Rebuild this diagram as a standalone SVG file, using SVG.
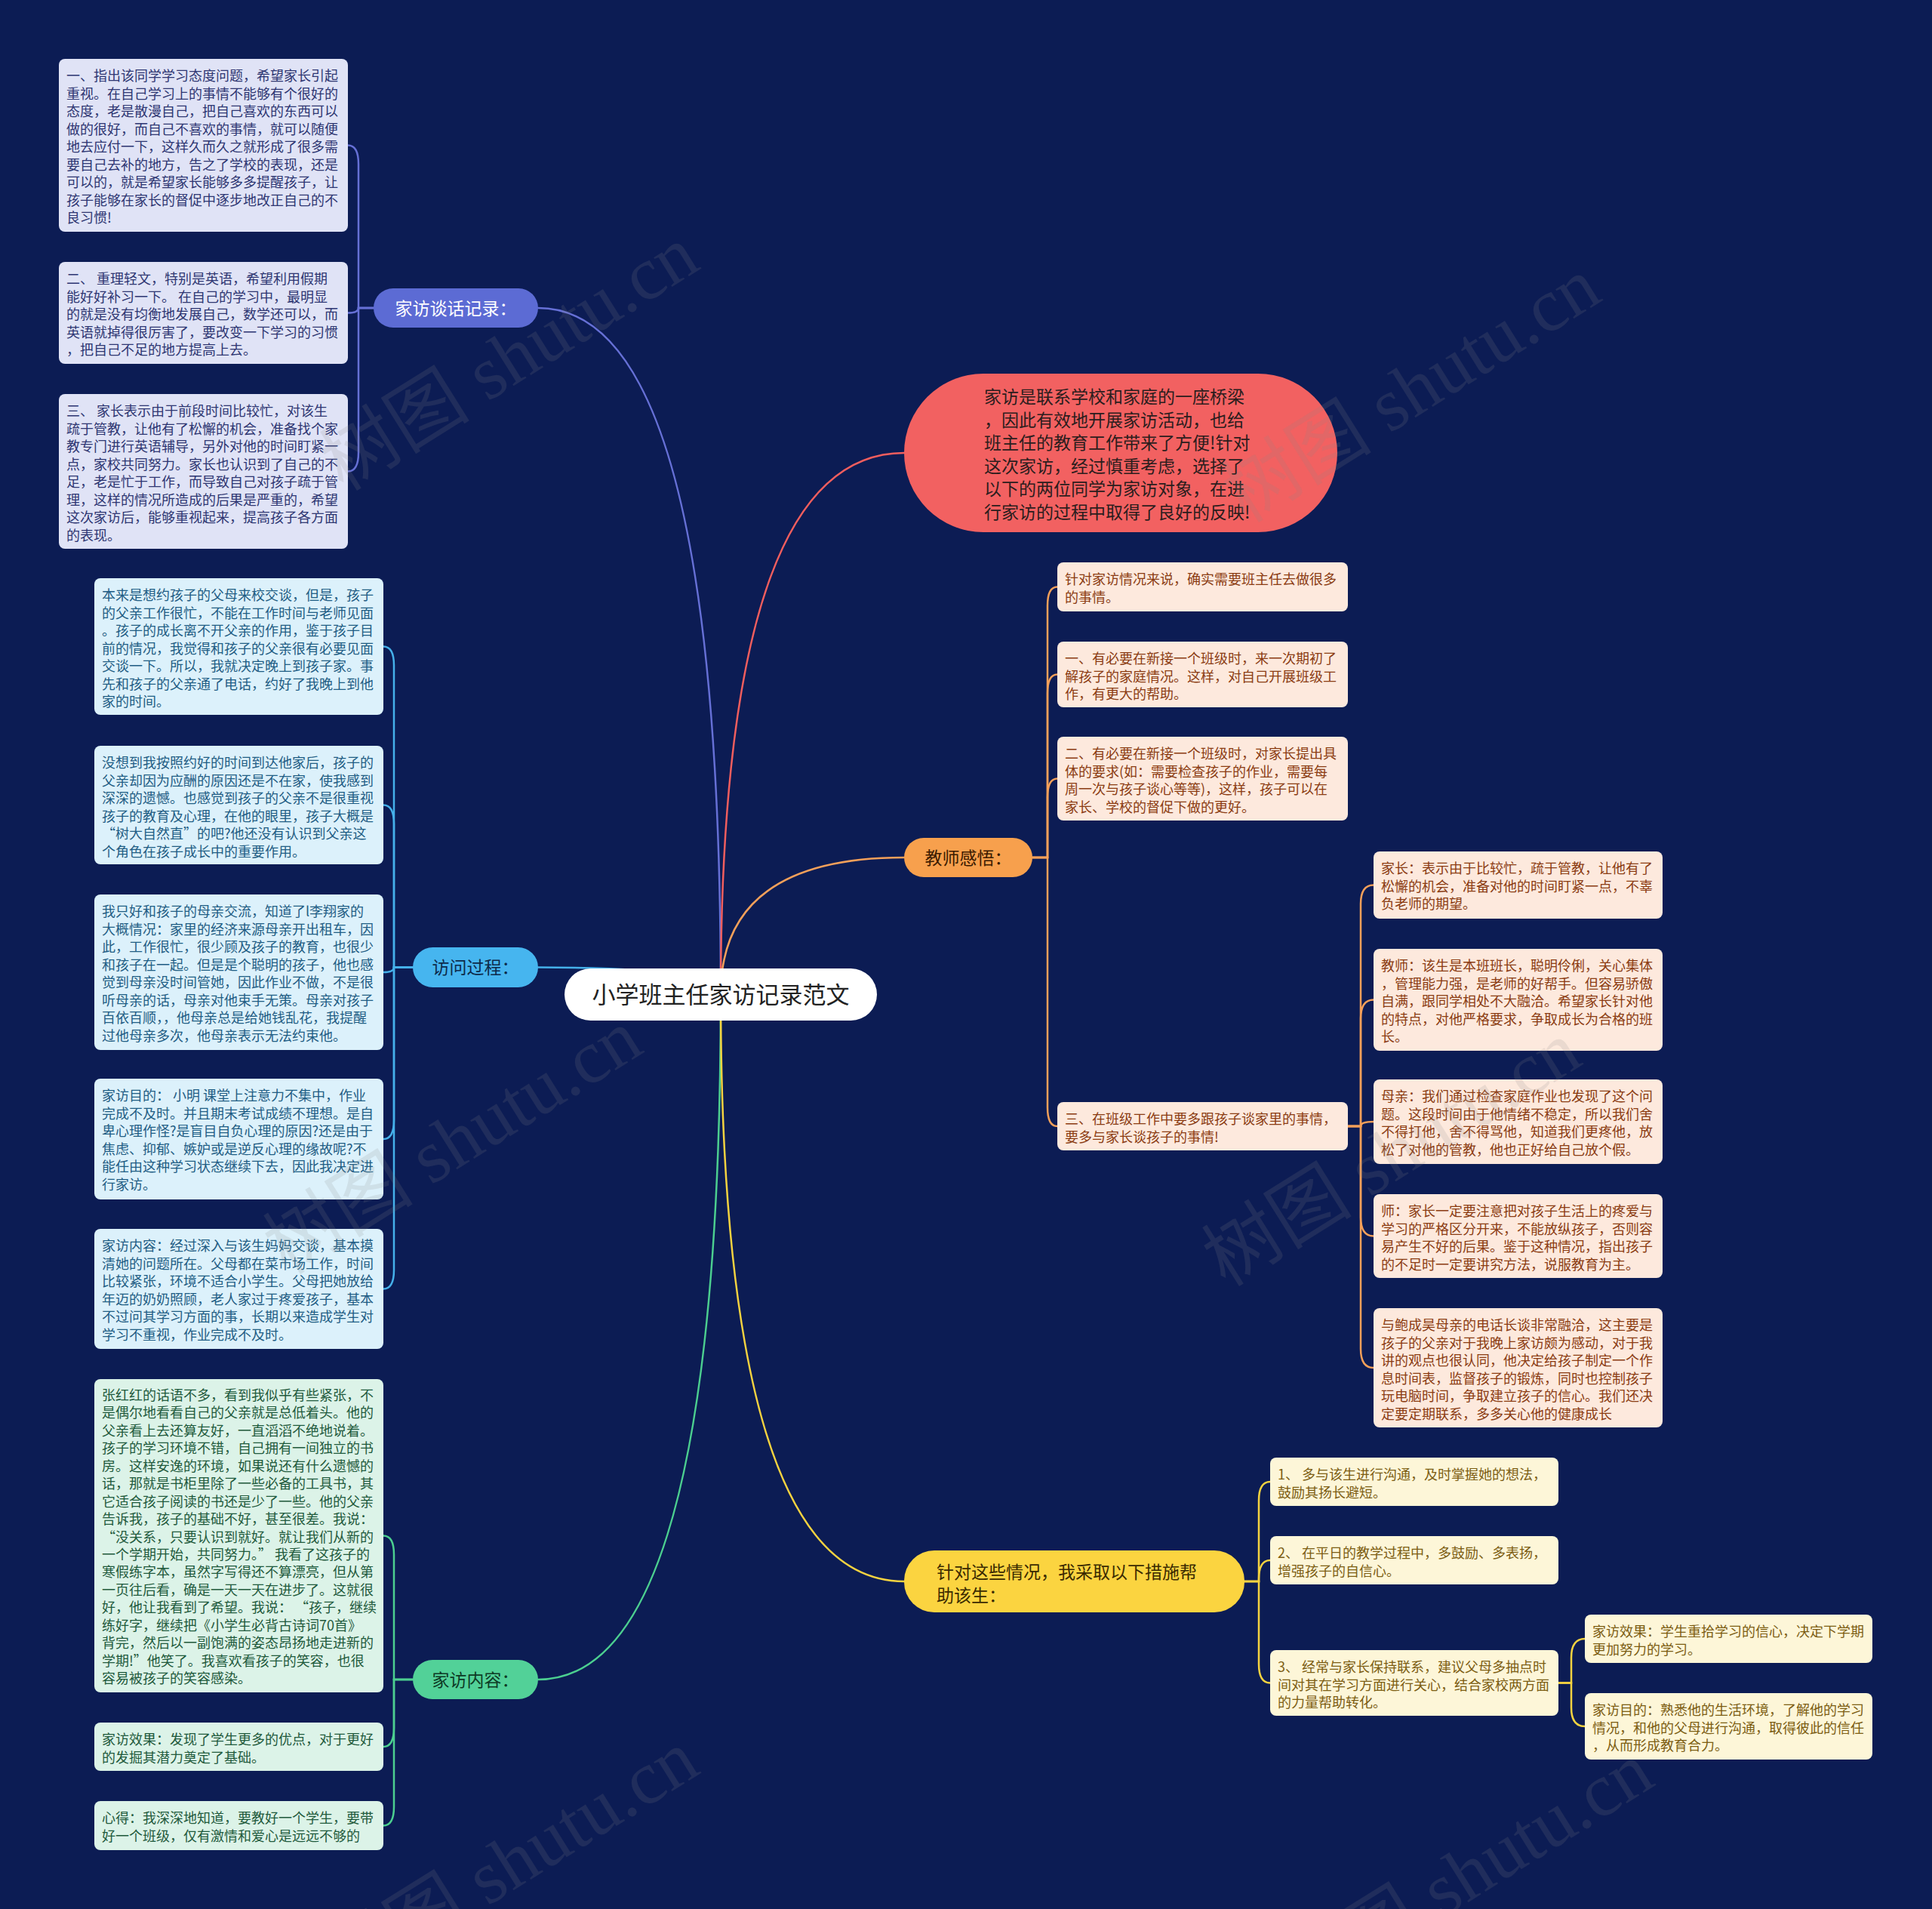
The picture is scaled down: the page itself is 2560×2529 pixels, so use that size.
<svg xmlns="http://www.w3.org/2000/svg" width="2560" height="2529" viewBox="0 0 2560 2529">
<style>
text{font-family:"Noto Sans CJK SC","Noto Sans",sans-serif;}
.leaf{font-size:18px;}
.lav rect{fill:#e0e3f6;} .lav text{fill:#2e3672;}
.sky rect{fill:#dcf1fb;} .sky text{fill:#1f5d84;}
.mint rect{fill:#dcf3e8;} .mint text{fill:#1f5a3c;}
.peach rect{fill:#fde9dd;} .peach text{fill:#8b3c12;}
.cream rect{fill:#fdf6d8;} .cream text{fill:#7c5d12;}
.lbl{font-size:23px;}
.conn path{fill:none;stroke-width:2.5;stroke-linecap:round;}
.c1{stroke:#6670d6;} .c2{stroke:#45b0ea;} .c3{stroke:#4ccf90;} .c4{stroke:#f25e5e;} .c5{stroke:#f4a05a;} .c6{stroke:#f5d340;}
.wm text{font-family:"Liberation Serif","Noto Sans CJK SC",serif;font-size:100px;fill:#8a8a8a;fill-opacity:0.16;}
</style>
<rect width="2560" height="2529" fill="#0c1c54"/>

<g id="connectors" class="conn">
<path class="c1" d="M955 1317 Q955 408 713 408"/>
<path class="c2" d="M955 1317 Q955 1281.5 713 1281.5"/>
<path class="c3" d="M955 1317 Q955 2225 713 2225"/>
<path class="c4" d="M955 1317 Q955 600 1198 600"/>
<path class="c5" d="M955 1317 Q955 1136 1198 1136"/>
<path class="c6" d="M955 1317 Q955 2095 1198 2095"/>
<path class="c1" d="M495 408 H475 V217.5 Q475 192.5 461 192.5"/>
<path class="c1" d="M495 408 H475 Q475 414.5 461 414.5"/>
<path class="c1" d="M495 408 H475 V599.5 Q475 624.5 461 624.5"/>
<path class="c2" d="M547 1281.5 H522 V881.5 Q522 856.5 508 856.5"/>
<path class="c2" d="M547 1281.5 H522 V1091.5 Q522 1066.5 508 1066.5"/>
<path class="c2" d="M547 1281.5 H522 Q522 1288 508 1288"/>
<path class="c2" d="M547 1281.5 H522 V1484 Q522 1509 508 1509"/>
<path class="c2" d="M547 1281.5 H522 V1682.5 Q522 1707.5 508 1707.5"/>
<path class="c3" d="M547 2225 H522 V2059.5 Q522 2034.5 508 2034.5"/>
<path class="c3" d="M547 2225 H522 V2289 Q522 2314 508 2314"/>
<path class="c3" d="M547 2225 H522 V2393.5 Q522 2418.5 508 2418.5"/>
<path class="c5" d="M1368 1136 H1388 V802.5 Q1388 777.5 1401 777.5"/>
<path class="c5" d="M1368 1136 H1388 V918.5 Q1388 893.5 1401 893.5"/>
<path class="c5" d="M1368 1136 H1388 V1056.5 Q1388 1031.5 1401 1031.5"/>
<path class="c5" d="M1368 1136 H1388 V1467 Q1388 1492 1401 1492"/>
<path class="c5" d="M1786 1492 H1803 V1197.5 Q1803 1172.5 1820 1172.5"/>
<path class="c5" d="M1786 1492 H1803 V1349.5 Q1803 1324.5 1820 1324.5"/>
<path class="c5" d="M1786 1492 H1803 Q1803 1486 1820 1486"/>
<path class="c5" d="M1786 1492 H1803 V1612.5 Q1803 1637.5 1820 1637.5"/>
<path class="c5" d="M1786 1492 H1803 V1787 Q1803 1812 1820 1812"/>
<path class="c6" d="M1649 2095 H1668 V1988 Q1668 1963 1683 1963"/>
<path class="c6" d="M1649 2095 H1668 V2092 Q1668 2067 1683 2067"/>
<path class="c6" d="M1649 2095 H1668 V2204.5 Q1668 2229.5 1683 2229.5"/>
<path class="c6" d="M2065 2229.5 H2082 V2196 Q2082 2171 2100 2171"/>
<path class="c6" d="M2065 2229.5 H2082 V2262 Q2082 2287 2100 2287"/>
</g>

<g id="root">
<rect x="748" y="1283" width="414" height="69" rx="34.5" fill="#ffffff"/>
<text x="955" y="1329" font-size="31" text-anchor="middle" fill="#222222">小学班主任家访记录范文</text>
</g>

<g id="branch-tanhua">
<rect x="495" y="382" width="218" height="52" rx="26" fill="#5c6bd4"/>
<text class="lbl" x="604" y="416.5" text-anchor="middle" fill="#ffffff">家访谈话记录：</text>
</g>
<g id="branch-guocheng">
<rect x="547" y="1255" width="166" height="53" rx="26.5" fill="#46b5ef"/>
<text class="lbl" x="630" y="1290" text-anchor="middle" fill="#0d2a4a">访问过程：</text>
</g>
<g id="branch-neirong">
<rect x="547" y="2199" width="166" height="52" rx="26" fill="#52d198"/>
<text class="lbl" x="630" y="2233.5" text-anchor="middle" fill="#0d3a25">家访内容：</text>
</g>
<g id="branch-intro">
<rect x="1198" y="495" width="574" height="210" rx="105" fill="#f26161"/>
<text class="lbl" fill="#2b1d1d">
<tspan x="1304" y="534">家访是联系学校和家庭的一座桥梁</tspan>
<tspan x="1304" y="564.5">，因此有效地开展家访活动，也给</tspan>
<tspan x="1304" y="595">班主任的教育工作带来了方便!针对</tspan>
<tspan x="1304" y="625.5">这次家访，经过慎重考虑，选择了</tspan>
<tspan x="1304" y="656">以下的两位同学为家访对象，在进</tspan>
<tspan x="1304" y="686.5">行家访的过程中取得了良好的反映!</tspan>
</text>
</g>
<g id="branch-ganwu">
<rect x="1198" y="1110" width="170" height="52" rx="26" fill="#f7a04d"/>
<text class="lbl" x="1283" y="1144.5" text-anchor="middle" fill="#3a1a00">教师感悟：</text>
</g>
<g id="branch-cuoshi">
<rect x="1198" y="2054" width="451" height="82" rx="40" fill="#fbd440"/>
<text class="lbl" fill="#3a2a00">
<tspan x="1241" y="2091">针对这些情况，我采取以下措施帮</tspan>
<tspan x="1241" y="2122">助该生：</tspan>
</text>
</g>

<g id="L1" class="lav"><rect x="78" y="78" width="383" height="229" rx="8"/>
<text class="leaf"><tspan x="88" y="107">一、指出该同学学习态度问题，希望家长引起</tspan><tspan x="88" dy="23.5">重视。在自己学习上的事情不能够有个很好的</tspan><tspan x="88" dy="23.5">态度，老是散漫自己，把自己喜欢的东西可以</tspan><tspan x="88" dy="23.5">做的很好，而自己不喜欢的事情，就可以随便</tspan><tspan x="88" dy="23.5">地去应付一下，这样久而久之就形成了很多需</tspan><tspan x="88" dy="23.5">要自己去补的地方，告之了学校的表现，还是</tspan><tspan x="88" dy="23.5">可以的，就是希望家长能够多多提醒孩子，让</tspan><tspan x="88" dy="23.5">孩子能够在家长的督促中逐步地改正自己的不</tspan><tspan x="88" dy="23.5">良习惯!</tspan></text></g>
<g id="L2" class="lav"><rect x="78" y="347" width="383" height="135" rx="8"/>
<text class="leaf"><tspan x="88" y="376">二、 重理轻文，特别是英语，希望利用假期</tspan><tspan x="88" dy="23.5">能好好补习一下。 在自己的学习中，最明显</tspan><tspan x="88" dy="23.5">的就是没有均衡地发展自己，数学还可以，而</tspan><tspan x="88" dy="23.5">英语就掉得很厉害了，要改变一下学习的习惯</tspan><tspan x="88" dy="23.5">，把自己不足的地方提高上去。</tspan></text></g>
<g id="L3" class="lav"><rect x="78" y="522" width="383" height="205" rx="8"/>
<text class="leaf"><tspan x="88" y="551">三、 家长表示由于前段时间比较忙，对该生</tspan><tspan x="88" dy="23.5">疏于管教，让他有了松懈的机会，准备找个家</tspan><tspan x="88" dy="23.5">教专门进行英语辅导，另外对他的时间盯紧一</tspan><tspan x="88" dy="23.5">点，家校共同努力。家长也认识到了自己的不</tspan><tspan x="88" dy="23.5">足，老是忙于工作，而导致自己对孩子疏于管</tspan><tspan x="88" dy="23.5">理，这样的情况所造成的后果是严重的，希望</tspan><tspan x="88" dy="23.5">这次家访后，能够重视起来，提高孩子各方面</tspan><tspan x="88" dy="23.5">的表现。</tspan></text></g>

<g id="V1" class="sky"><rect x="125" y="766" width="383" height="181" rx="8"/>
<text class="leaf"><tspan x="135" y="795">本来是想约孩子的父母来校交谈，但是，孩子</tspan><tspan x="135" dy="23.5">的父亲工作很忙，不能在工作时间与老师见面</tspan><tspan x="135" dy="23.5">。孩子的成长离不开父亲的作用，鉴于孩子目</tspan><tspan x="135" dy="23.5">前的情况，我觉得和孩子的父亲很有必要见面</tspan><tspan x="135" dy="23.5">交谈一下。所以，我就决定晚上到孩子家。事</tspan><tspan x="135" dy="23.5">先和孩子的父亲通了电话，约好了我晚上到他</tspan><tspan x="135" dy="23.5">家的时间。</tspan></text></g>
<g id="V2" class="sky"><rect x="125" y="988" width="383" height="157" rx="8"/>
<text class="leaf"><tspan x="135" y="1017">没想到我按照约好的时间到达他家后，孩子的</tspan><tspan x="135" dy="23.5">父亲却因为应酬的原因还是不在家，使我感到</tspan><tspan x="135" dy="23.5">深深的遗憾。也感觉到孩子的父亲不是很重视</tspan><tspan x="135" dy="23.5">孩子的教育及心理，在他的眼里，孩子大概是</tspan><tspan x="135" dy="23.5">“树大自然直”的吧?他还没有认识到父亲这</tspan><tspan x="135" dy="23.5">个角色在孩子成长中的重要作用。</tspan></text></g>
<g id="V3" class="sky"><rect x="125" y="1185" width="383" height="206" rx="8"/>
<text class="leaf"><tspan x="135" y="1214">我只好和孩子的母亲交流，知道了l李翔家的</tspan><tspan x="135" dy="23.5">大概情况：家里的经济来源母亲开出租车，因</tspan><tspan x="135" dy="23.5">此，工作很忙，很少顾及孩子的教育，也很少</tspan><tspan x="135" dy="23.5">和孩子在一起。但是是个聪明的孩子，他也感</tspan><tspan x="135" dy="23.5">觉到母亲没时间管她，因此作业不做，不是很</tspan><tspan x="135" dy="23.5">听母亲的话，母亲对他束手无策。母亲对孩子</tspan><tspan x="135" dy="23.5">百依百顺，，他母亲总是给她钱乱花，我提醒</tspan><tspan x="135" dy="23.5">过他母亲多次，他母亲表示无法约束他。</tspan></text></g>
<g id="V4" class="sky"><rect x="125" y="1429" width="383" height="160" rx="8"/>
<text class="leaf"><tspan x="135" y="1458">家访目的： 小明 课堂上注意力不集中，作业</tspan><tspan x="135" dy="23.5">完成不及时。并且期末考试成绩不理想。是自</tspan><tspan x="135" dy="23.5">卑心理作怪?是盲目自负心理的原因?还是由于</tspan><tspan x="135" dy="23.5">焦虑、抑郁、嫉妒或是逆反心理的缘故呢?不</tspan><tspan x="135" dy="23.5">能任由这种学习状态继续下去，因此我决定进</tspan><tspan x="135" dy="23.5">行家访。</tspan></text></g>
<g id="V5" class="sky"><rect x="125" y="1628" width="383" height="159" rx="8"/>
<text class="leaf"><tspan x="135" y="1657">家访内容：经过深入与该生妈妈交谈，基本摸</tspan><tspan x="135" dy="23.5">清她的问题所在。父母都在菜市场工作，时间</tspan><tspan x="135" dy="23.5">比较紧张，环境不适合小学生。父母把她放给</tspan><tspan x="135" dy="23.5">年迈的奶奶照顾，老人家过于疼爱孩子，基本</tspan><tspan x="135" dy="23.5">不过问其学习方面的事，长期以来造成学生对</tspan><tspan x="135" dy="23.5">学习不重视，作业完成不及时。</tspan></text></g>

<g id="C1" class="mint"><rect x="125" y="1827" width="383" height="415" rx="8"/>
<text class="leaf"><tspan x="135" y="1855">张红红的话语不多，看到我似乎有些紧张，不</tspan><tspan x="135" dy="23.44">是偶尔地看看自己的父亲就是总低着头。他的</tspan><tspan x="135" dy="23.44">父亲看上去还算友好，一直滔滔不绝地说着。</tspan><tspan x="135" dy="23.44">孩子的学习环境不错，自己拥有一间独立的书</tspan><tspan x="135" dy="23.44">房。这样安逸的环境，如果说还有什么遗憾的</tspan><tspan x="135" dy="23.44">话，那就是书柜里除了一些必备的工具书，其</tspan><tspan x="135" dy="23.44">它适合孩子阅读的书还是少了一些。他的父亲</tspan><tspan x="135" dy="23.44">告诉我，孩子的基础不好，甚至很差。我说：</tspan><tspan x="135" dy="23.44">“没关系，只要认识到就好。就让我们从新的</tspan><tspan x="135" dy="23.44">一个学期开始，共同努力。” 我看了这孩子的</tspan><tspan x="135" dy="23.44">寒假练字本，虽然字写得还不算漂亮，但从第</tspan><tspan x="135" dy="23.44">一页往后看，确是一天一天在进步了。这就很</tspan><tspan x="135" dy="23.44">好，他让我看到了希望。我说： “孩子，继续</tspan><tspan x="135" dy="23.44">练好字，继续把《小学生必背古诗词70首》</tspan><tspan x="135" dy="23.44">背完，然后以一副饱满的姿态昂扬地走进新的</tspan><tspan x="135" dy="23.44">学期!”他笑了。我喜欢看孩子的笑容，也很</tspan><tspan x="135" dy="23.44">容易被孩子的笑容感染。</tspan></text></g>
<g id="C2" class="mint"><rect x="125" y="2282" width="383" height="64" rx="8"/>
<text class="leaf"><tspan x="135" y="2311">家访效果：发现了学生更多的优点，对于更好</tspan><tspan x="135" dy="23.5">的发掘其潜力奠定了基础。</tspan></text></g>
<g id="C3" class="mint"><rect x="125" y="2386" width="383" height="65" rx="8"/>
<text class="leaf"><tspan x="135" y="2415">心得：我深深地知道，要教好一个学生，要带</tspan><tspan x="135" dy="23.5">好一个班级，仅有激情和爱心是远远不够的</tspan></text></g>

<g id="T1" class="peach"><rect x="1401" y="745" width="385" height="65" rx="8"/>
<text class="leaf"><tspan x="1411" y="774">针对家访情况来说，确实需要班主任去做很多</tspan><tspan x="1411" dy="23.5">的事情。</tspan></text></g>
<g id="T2" class="peach"><rect x="1401" y="850" width="385" height="87" rx="8"/>
<text class="leaf"><tspan x="1411" y="879">一、有必要在新接一个班级时，来一次期初了</tspan><tspan x="1411" dy="23.5">解孩子的家庭情况。这样，对自己开展班级工</tspan><tspan x="1411" dy="23.5">作，有更大的帮助。</tspan></text></g>
<g id="T3" class="peach"><rect x="1401" y="976" width="385" height="111" rx="8"/>
<text class="leaf"><tspan x="1411" y="1005">二、有必要在新接一个班级时，对家长提出具</tspan><tspan x="1411" dy="23.5">体的要求(如：需要检查孩子的作业，需要每</tspan><tspan x="1411" dy="23.5">周一次与孩子谈心等等)，这样，孩子可以在</tspan><tspan x="1411" dy="23.5">家长、学校的督促下做的更好。</tspan></text></g>
<g id="T4" class="peach"><rect x="1401" y="1460" width="385" height="64" rx="8"/>
<text class="leaf"><tspan x="1411" y="1489">三、在班级工作中要多跟孩子谈家里的事情，</tspan><tspan x="1411" dy="23.5">要多与家长谈孩子的事情!</tspan></text></g>

<g id="S1" class="peach"><rect x="1820" y="1128" width="383" height="89" rx="8"/>
<text class="leaf"><tspan x="1830" y="1157">家长：表示由于比较忙，疏于管教，让他有了</tspan><tspan x="1830" dy="23.5">松懈的机会，准备对他的时间盯紧一点，不辜</tspan><tspan x="1830" dy="23.5">负老师的期望。</tspan></text></g>
<g id="S2" class="peach"><rect x="1820" y="1257" width="383" height="135" rx="8"/>
<text class="leaf"><tspan x="1830" y="1286">教师：该生是本班班长，聪明伶俐，关心集体</tspan><tspan x="1830" dy="23.5">，管理能力强，是老师的好帮手。但容易骄傲</tspan><tspan x="1830" dy="23.5">自满，跟同学相处不大融洽。希望家长针对他</tspan><tspan x="1830" dy="23.5">的特点，对他严格要求，争取成长为合格的班</tspan><tspan x="1830" dy="23.5">长。</tspan></text></g>
<g id="S3" class="peach"><rect x="1820" y="1430" width="383" height="112" rx="8"/>
<text class="leaf"><tspan x="1830" y="1459">母亲：我们通过检查家庭作业也发现了这个问</tspan><tspan x="1830" dy="23.5">题。这段时间由于他情绪不稳定，所以我们舍</tspan><tspan x="1830" dy="23.5">不得打他，舍不得骂他，知道我们更疼他，放</tspan><tspan x="1830" dy="23.5">松了对他的管教，他也正好给自己放个假。</tspan></text></g>
<g id="S4" class="peach"><rect x="1820" y="1582" width="383" height="111" rx="8"/>
<text class="leaf"><tspan x="1830" y="1611">师：家长一定要注意把对孩子生活上的疼爱与</tspan><tspan x="1830" dy="23.5">学习的严格区分开来，不能放纵孩子，否则容</tspan><tspan x="1830" dy="23.5">易产生不好的后果。鉴于这种情况，指出孩子</tspan><tspan x="1830" dy="23.5">的不足时一定要讲究方法，说服教育为主。</tspan></text></g>
<g id="S5" class="peach"><rect x="1820" y="1733" width="383" height="158" rx="8"/>
<text class="leaf"><tspan x="1830" y="1762">与鲍成昊母亲的电话长谈非常融洽，这主要是</tspan><tspan x="1830" dy="23.5">孩子的父亲对于我晚上家访颇为感动，对于我</tspan><tspan x="1830" dy="23.5">讲的观点也很认同，他决定给孩子制定一个作</tspan><tspan x="1830" dy="23.5">息时间表，监督孩子的锻炼，同时也控制孩子</tspan><tspan x="1830" dy="23.5">玩电脑时间，争取建立孩子的信心。我们还决</tspan><tspan x="1830" dy="23.5">定要定期联系，多多关心他的健康成长</tspan></text></g>

<g id="Y1" class="cream"><rect x="1683" y="1931" width="382" height="64" rx="8"/>
<text class="leaf"><tspan x="1693" y="1960">1、 多与该生进行沟通，及时掌握她的想法，</tspan><tspan x="1693" dy="23.5">鼓励其扬长避短。</tspan></text></g>
<g id="Y2" class="cream"><rect x="1683" y="2035" width="382" height="64" rx="8"/>
<text class="leaf"><tspan x="1693" y="2064">2、 在平日的教学过程中，多鼓励、多表扬，</tspan><tspan x="1693" dy="23.5">增强孩子的自信心。</tspan></text></g>
<g id="Y3" class="cream"><rect x="1683" y="2186" width="382" height="87" rx="8"/>
<text class="leaf"><tspan x="1693" y="2215">3、 经常与家长保持联系，建议父母多抽点时</tspan><tspan x="1693" dy="23.5">间对其在学习方面进行关心，结合家校两方面</tspan><tspan x="1693" dy="23.5">的力量帮助转化。</tspan></text></g>
<g id="Y3a" class="cream"><rect x="2100" y="2139" width="381" height="64" rx="8"/>
<text class="leaf"><tspan x="2110" y="2168">家访效果：学生重拾学习的信心，决定下学期</tspan><tspan x="2110" dy="23.5">更加努力的学习。</tspan></text></g>
<g id="Y3b" class="cream"><rect x="2100" y="2243" width="381" height="88" rx="8"/>
<text class="leaf"><tspan x="2110" y="2272">家访目的：熟悉他的生活环境，了解他的学习</tspan><tspan x="2110" dy="23.5">情况，和他的父母进行沟通，取得彼此的信任</tspan><tspan x="2110" dy="23.5">，从而形成教育合力。</tspan></text></g>

<g id="watermarks" class="wm">
<text transform="translate(455 652) rotate(-32)">树图 shutu.cn</text>
<text transform="translate(1650 694) rotate(-32)">树图 shutu.cn</text>
<text transform="translate(380 1690) rotate(-32)">树图 shutu.cn</text>
<text transform="translate(1624 1706) rotate(-32)">树图 shutu.cn</text>
<text transform="translate(455 2645) rotate(-32)">树图 shutu.cn</text>
<text transform="translate(1720 2661) rotate(-32)">树图 shutu.cn</text>
</g>
</svg>
